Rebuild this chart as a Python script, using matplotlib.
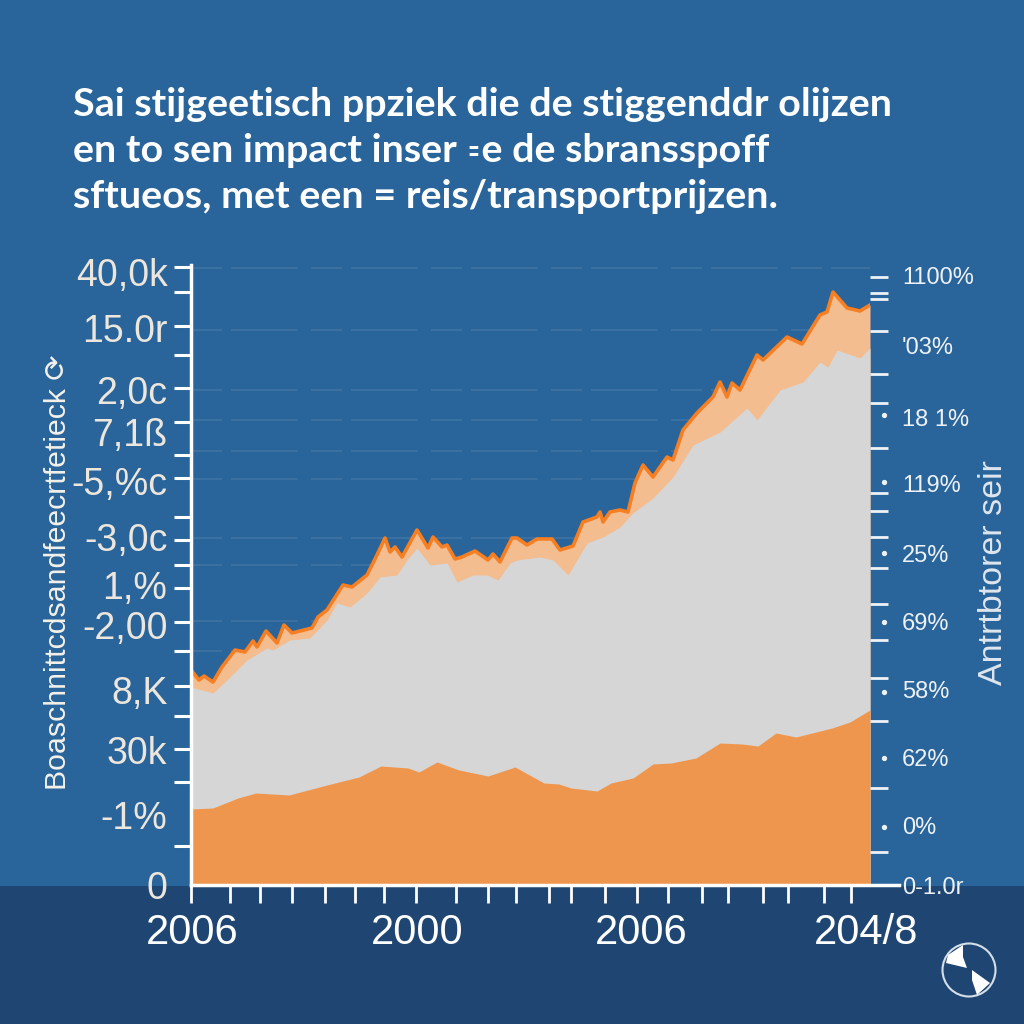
import matplotlib
matplotlib.use("Agg")
import matplotlib.pyplot as plt
from matplotlib.patches import Circle, Polygon, Rectangle

title_lines = [
    "Sai stijgeetisch ppziek die de stiggenddr olijzen",
    "en to sen impact inser ꞊e de sbransspoff",
    "sftueos, met een = reis/transportprijzen.",
]

# top edge of the stack
t_top = [0, 8, 13, 22, 31, 44, 54, 62, 66, 75, 86, 93, 101, 121, 127, 136, 152, 161, 176, 186,
         194, 199, 204, 211, 226, 237, 242, 251, 256, 264, 271, 284, 297, 302, 309, 321, 326, 336,
         346, 361, 369, 382, 392, 406, 409, 412, 419, 429, 437, 444, 452, 462, 476, 482, 492, 506,
         522, 529, 536, 541, 549, 566, 572, 596, 611, 629, 636, 642, 656, 669, 679]
v_top = [215, 205, 209, 203, 218, 235, 233, 244, 238, 254, 242, 260, 252, 257, 268, 275, 300, 298, 310, 330,
         347, 333, 338, 328, 355, 337, 348, 338, 340, 326, 328, 334, 325, 331, 323, 347, 347, 340,
         346, 346, 335, 339, 363, 368, 373, 363, 373, 375, 373, 402, 420, 408, 428, 425, 455, 472,
         488, 503, 488, 502, 495, 530, 525, 548, 541, 570, 573, 593, 577, 574, 580]

# grey layer
t_mid = [0, 22, 39, 56, 76, 82, 99, 119, 136, 146, 159, 176, 189, 206, 216, 226, 239, 256, 266, 282, 296, 307,
         319, 326, 349, 362, 377, 396, 412, 429, 442, 462, 482, 502, 529, 556, 566, 589, 612, 629, 637, 646, 669, 679]
v_mid = [198, 192, 208, 225, 237, 235, 245, 247, 265, 282, 278, 292, 308, 310, 325, 337, 320, 322, 303, 310, 310, 305,
         322, 325, 328, 325, 310, 342, 348, 358, 372, 387, 408, 440, 453, 477, 465, 495, 503, 523, 518, 535, 527, 537]

# orange base layer
t_low = [0, 22, 47, 65, 98, 136, 168, 190, 217, 228, 246, 268, 297, 324, 353, 368, 380, 406, 420, 442, 462,
         480, 505, 529, 551, 567, 585, 605, 641, 659, 679]
v_low = [76, 77, 87, 92, 90, 100, 108, 119, 117, 113, 123, 115, 109, 118, 102, 101, 97, 94, 102, 107, 121,
         122, 127, 142, 141, 139, 152, 148, 157, 163, 175]

left_ticks = [618, 593, 559, 530, 497, 463, 430, 407, 368, 345, 320, 297, 263, 234, 199, 169, 136, 103, 70, 39, 0]
left_label_pos = [613, 557, 495, 453, 404, 348, 300, 260, 195, 135, 70, 0]
left_labels = ["40,0k", "15.0r", "2,0c", "7,1ß", "-5,%c", "-3,0c", "1,%", "-2,00", "8,K", "30k", "-1%", "0"]

right_ticks = [608, 592, 586, 554, 539, 511, 482, 437, 392, 374, 348, 317, 281, 245, 207, 164, 97, 33]
right_dots = [470, 403, 332, 263, 193, 127, 58]
right_label_pos = [610, 539, 467, 401, 331, 264, 195, 128, 60, 0]
right_labels = ["1100%", "'03%", "18 1%", "119%", "25%", "69%", "58%", "62%", "0%", "0-1.0r"]

x_ticks = [0, 39, 69, 101, 134, 164, 193, 225, 265, 297, 325, 358, 380, 414, 446, 477, 511, 537, 572, 597, 633, 660]
x_label_pos = [1, 226, 450, 675]
x_labels = ["2006", "2000", "2006", "204/8"]

grid_levels = [617, 555, 495, 465, 434, 406, 347, 320, 264, 234]

BG = "#29649a"
BAND = "#1f4672"
INK = "#f4f1ea"

fig = plt.figure(figsize=(10.24, 10.24), dpi=100, facecolor=BG)

# backdrop, footer band, title and logo share one pixel-sized layer
bg = fig.add_axes([0, 0, 1, 1], zorder=0)
bg.set_xlim(0, 1024)
bg.set_ylim(1024, 0)
bg.axis("off")
bg.add_patch(Rectangle((0, 886), 1024, 138, color=BAND, lw=0))

for i, line in enumerate(title_lines):
    bg.text(73, 104 + i * 46.5, line, color="white", fontsize=28.4, fontweight="bold",
            family=["Lato", "DejaVu Sans"], va="center", ha="left")

bg.text(58, 572, "Boaschnittcdsandfeecrtfetieck ⟳", color=INK, fontsize=21.8, rotation=90,
        family=["Liberation Sans", "DejaVu Sans"], va="center", ha="center")
bg.text(994, 573, "Antrtbtorer seir", color="#dfe6ee", fontsize=24.5, rotation=90,
        family="Liberation Sans", va="center", ha="center")

bg.add_patch(Circle((969, 970), 26.5, fill=False, ec="#d5dfe8", lw=1.5))
bg.add_patch(Polygon([(963, 945), (948, 955), (946, 963), (967, 968), (963, 957)], color="white", lw=0))
bg.add_patch(Polygon([(972, 970), (990, 983), (977, 995), (972, 980)], color="white", lw=0))

ax = fig.add_axes([191 / 1024, 139 / 1024, 679 / 1024, 620 / 1024], zorder=2)
ax.set_facecolor("none")
ax.set_xlim(0, 679)
ax.set_ylim(0, 620)

for level in grid_levels:
    ax.axhline(level, color="#5f8ab3", lw=1.6, alpha=0.32, ls=(0, (14, 4, 30, 6)), zorder=1)

ax.fill_between(t_top, v_top, color="#f3bd90", lw=0, zorder=2)
ax.plot(t_top, v_top, color="#f57f22", lw=2.6, solid_joinstyle="round", zorder=3)
ax.fill_between(t_mid, v_mid, color="#d6d6d6", lw=0, zorder=4)
ax.fill_between(t_low, v_low, color="#ee964d", lw=0, zorder=5)

# axis lines
for side in ("top", "right"):
    ax.spines[side].set_visible(False)
ax.spines["left"].set(color="white", lw=2.5)
ax.spines["bottom"].set(color="white", lw=2.5, bounds=(0, 708))
ax.spines["bottom"].set_clip_on(False)
ax.spines["left"].set_zorder(6)
ax.spines["bottom"].set_zorder(6)

ax.set_yticks(left_ticks, minor=True)
ax.tick_params(axis="y", which="minor", length=12, width=2.2, color="white")
ax.set_yticks(left_label_pos, left_labels, family="Liberation Sans", fontsize=27, color="#ece6dc")
ax.tick_params(axis="y", which="major", length=0, pad=17)

ax.set_xticks(x_ticks, minor=True)
ax.tick_params(axis="x", which="minor", length=13, width=2, color="white")
ax.set_xticks(x_label_pos, x_labels, family="Liberation Sans", fontsize=30, color="white")
ax.tick_params(axis="x", which="major", length=0, pad=20)

right = ax.twinx()
right.set_ylim(0, 620)
for side in ("top", "left", "bottom", "right"):
    right.spines[side].set_visible(False)
right.set_yticks(right_ticks, minor=True)
right.tick_params(axis="y", which="minor", length=13, width=2, color="#eef2f6")
right.set_yticks(right_label_pos, right_labels, family="Liberation Sans", fontsize=17, color="#eef2f6")
right.tick_params(axis="y", which="major", length=0, pad=23)
right.plot([693] * len(right_dots), right_dots, ls="none", marker="o", ms=2.8, color="#eef2f6", clip_on=False)
right.set_xlim(0, 679)

fig.savefig("out.png", dpi=100, facecolor=BG)
